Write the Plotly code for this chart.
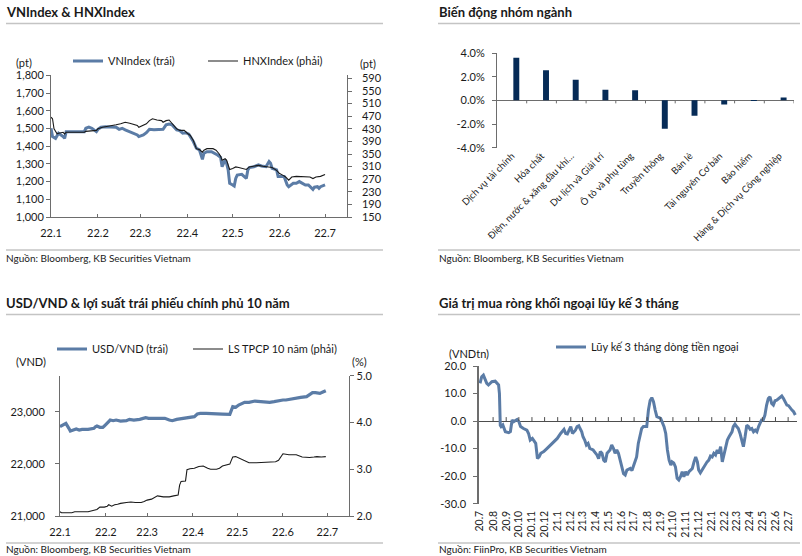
import plotly.graph_objects as go

FIG_W, FIG_H = 802, 556
FONT = "Lato"
TXT = "#1a1a1a"
AXC = "#6d6d6d"
BLUE = "#5b7ca6"
BLACK = "#1a1a1a"
NAVY = "#062b57"
RULE = "#c4c4c4"

# ---------------- Panel 1: VNIndex & HNXIndex ----------------
vn_dates = ["2022-01-01","2022-01-02","2022-01-04","2022-01-06","2022-01-09","2022-01-10","2022-01-11","2022-01-13",
            "2022-01-23","2022-01-24","2022-01-26","2022-01-28","2022-01-31","2022-02-01","2022-02-03","2022-02-06",
            "2022-02-10","2022-02-13","2022-02-15","2022-02-17","2022-02-19","2022-02-22","2022-02-24","2022-02-27",
            "2022-02-28","2022-03-03","2022-03-05","2022-03-07","2022-03-10","2022-03-14","2022-03-16","2022-03-18",
            "2022-03-20","2022-03-22","2022-03-25","2022-03-27","2022-03-29","2022-03-31","2022-04-02","2022-04-05",
            "2022-04-07","2022-04-09","2022-04-11","2022-04-12","2022-04-14","2022-04-17","2022-04-19","2022-04-21",
            "2022-04-23","2022-04-24","2022-04-26","2022-04-27","2022-04-28","2022-04-29","2022-05-01","2022-05-02",
            "2022-05-03","2022-05-04","2022-05-07","2022-05-09","2022-05-10","2022-05-11","2022-05-12","2022-05-15",
            "2022-05-18","2022-05-20","2022-05-23","2022-05-25","2022-05-26","2022-05-27","2022-05-30","2022-05-31",
            "2022-06-02","2022-06-04","2022-06-06","2022-06-07","2022-06-10","2022-06-12","2022-06-14","2022-06-16",
            "2022-06-18","2022-06-20","2022-06-22","2022-06-23","2022-06-24","2022-06-26","2022-06-27","2022-06-28",
            "2022-07-01"]
vn_values = [1501,1454,1444,1473,1454,1444,1482,1482,
             1482,1501,1507,1501,1482,1495,1507,1510,
             1510,1507,1495,1501,1492,1482,1476,1463,
             1454,1463,1476,1495,1492,1492,1495,1520,
             1525,1520,1492,1488,1473,1476,1468,1426,
             1388,1379,1326,1360,1369,1369,1360,1350,
             1337,1284,1322,1303,1266,1190,1181,1175,
             1218,1237,1241,1228,1218,1266,1279,1284,
             1294,1288,1284,1313,1303,1275,1266,1228,
             1228,1228,1181,1171,1190,1190,1200,1190,
             1181,1181,1162,1156,1168,1171,1162,1171,
             1181]

hnx_dates = ["2022-01-01","2022-01-02","2022-01-03","2022-01-05","2022-01-06","2022-01-09","2022-01-10","2022-01-11",
             "2022-01-23","2022-01-24","2022-01-31","2022-02-01","2022-02-04","2022-02-07","2022-02-10","2022-02-13",
             "2022-02-16","2022-02-19","2022-02-22","2022-02-24","2022-02-27","2022-02-28","2022-03-03","2022-03-05",
             "2022-03-07","2022-03-09","2022-03-12","2022-03-15","2022-03-16","2022-03-18","2022-03-20","2022-03-22",
             "2022-03-25","2022-03-27","2022-03-30","2022-04-01","2022-04-03","2022-04-05","2022-04-07","2022-04-09",
             "2022-04-11","2022-04-12","2022-04-14","2022-04-18","2022-04-20","2022-04-22","2022-04-23","2022-04-24",
             "2022-04-26","2022-04-27","2022-04-28","2022-04-29","2022-05-01","2022-05-03","2022-05-05","2022-05-08",
             "2022-05-10","2022-05-12","2022-05-15","2022-05-18","2022-05-21","2022-05-25","2022-05-27","2022-05-30",
             "2022-06-01","2022-06-03","2022-06-05","2022-06-07","2022-06-09","2022-06-12","2022-06-15","2022-06-17",
             "2022-06-21","2022-06-23","2022-06-25","2022-06-28","2022-07-01"]
hnx_values = [467,462,430,414,416,419,414,419,
              419,422,425,430,435,437,441,443,
              446,451,448,446,441,435,441,446,
              456,462,458,456,451,456,458,448,
              430,425,425,416,409,393,367,364,
              356,362,367,367,362,351,343,330,
              335,330,314,301,304,309,307,304,
              301,309,311,314,311,309,307,298,
              288,283,277,267,277,279,279,277,
              277,272,277,279,285]

p1_tick_dates = ["2022-01-01","2022-02-01","2022-03-01","2022-04-01","2022-05-01","2022-06-01","2022-07-01"]
p1_tick_text = ["22.1","22.2","22.3","22.4","22.5","22.6","22.7"]
p1_left_ticks = [1000,1100,1200,1300,1400,1500,1600,1700,1800]
p1_right_ticks = [150,190,230,270,310,350,390,430,470,510,550,590]

# ---------------- Panel 2: sector changes ----------------
sectors = ["Dịch vụ tài chính","Hóa chất","Điện, nước & xăng dầu khí…","Du lịch và Giải trí",
           "Ô tô và phụ tùng","Truyền thông","Bán lẻ","Tài nguyên Cơ bản","Bảo hiểm",
           "Hàng & Dịch vụ Công nghiệp"]
sector_changes = [3.6, 2.55, 1.75, 0.9, 0.85, -2.4, -1.3, -0.35, -0.05, 0.25]
p2_tick_vals = [-4, -2, 0, 2, 4]
p2_tick_text = ["-4.0%", "-2.0%", "0.0%", "2.0%", "4.0%"]

# ---------------- Panel 3: USD/VND & 10y yield ----------------
usd_dates = ["2022-01-01","2022-01-03","2022-01-05","2022-01-07","2022-01-08","2022-01-10","2022-01-12","2022-01-14",
             "2022-01-16","2022-01-20","2022-01-24","2022-01-25","2022-01-26","2022-01-28","2022-01-30","2022-01-31",
             "2022-02-02","2022-02-04","2022-02-06","2022-02-08","2022-02-11","2022-02-15","2022-02-17","2022-02-20",
             "2022-02-24","2022-02-26","2022-02-28","2022-03-02","2022-03-06","2022-03-09","2022-03-13","2022-03-16",
             "2022-03-18","2022-03-21","2022-03-24","2022-03-27","2022-03-31","2022-04-02","2022-04-04","2022-04-06",
             "2022-04-10","2022-04-17","2022-04-21","2022-04-26","2022-04-27","2022-04-28","2022-04-30","2022-05-02",
             "2022-05-06","2022-05-09","2022-05-13","2022-05-16","2022-05-19","2022-05-23","2022-05-26","2022-05-29",
             "2022-06-01","2022-06-03","2022-06-06","2022-06-10","2022-06-13","2022-06-17","2022-06-19","2022-06-21",
             "2022-06-23","2022-06-26","2022-06-28","2022-06-30"]
usd_values = [22712,22744,22776,22681,22629,22649,22668,22649,
              22661,22661,22681,22712,22725,22700,22700,22725,
              22776,22840,22827,22840,22821,22827,22853,22840,
              22853,22872,22885,22872,22872,22866,22872,22840,
              22827,22853,22866,22872,22885,22904,22955,22968,
              22968,22968,22955,22949,23045,23096,23083,23128,
              23179,23179,23204,23192,23185,23179,23192,23211,
              23224,23224,23243,23256,23275,23288,23319,23364,
              23364,23351,23377,23403]

yield_dates = ["2022-01-01","2022-01-02","2022-01-09","2022-01-11","2022-01-20","2022-01-24","2022-01-26","2022-01-28",
               "2022-01-31","2022-02-02","2022-02-03","2022-02-05","2022-02-07","2022-02-09","2022-02-11","2022-02-15",
               "2022-02-18","2022-02-21","2022-02-25","2022-02-27","2022-03-01","2022-03-04","2022-03-06","2022-03-08",
               "2022-03-12","2022-03-16","2022-03-19","2022-03-22","2022-03-23","2022-03-24","2022-03-27","2022-03-28",
               "2022-03-30","2022-04-02","2022-04-05","2022-04-08","2022-04-11","2022-04-13","2022-04-17","2022-04-19",
               "2022-04-21","2022-04-23","2022-04-26","2022-04-27","2022-04-28","2022-04-30","2022-05-02","2022-05-06",
               "2022-05-09","2022-05-14","2022-05-18","2022-05-23","2022-05-27","2022-05-29","2022-05-31","2022-06-01",
               "2022-06-05","2022-06-10","2022-06-14","2022-06-19","2022-06-22","2022-06-24","2022-06-27","2022-06-30"]
yield_values = [2.09,2.07,2.07,2.09,2.09,2.13,2.14,2.19,
                2.19,2.21,2.24,2.21,2.24,2.25,2.27,2.29,
                2.30,2.29,2.29,2.31,2.34,2.36,2.40,2.43,
                2.41,2.41,2.43,2.45,2.66,2.74,2.75,2.99,
                3.01,3.02,3.06,3.07,3.02,3.00,3.00,3.02,
                3.07,3.09,3.11,3.19,3.26,3.27,3.24,3.19,
                3.14,3.14,3.15,3.15,3.16,3.19,3.29,3.33,
                3.31,3.31,3.26,3.25,3.26,3.27,3.26,3.27]

p3_tick_dates = p1_tick_dates
p3_tick_text = p1_tick_text
p3_left_ticks = [21000, 22000, 23000]
p3_right_ticks = [2.0, 3.0, 4.0, 5.0]

# ---------------- Panel 4: 3-month cumulative foreign net buying ----------------
flow_dates = [
    "2020-07-01","2020-07-05","2020-07-09","2020-07-13","2020-07-17","2020-07-21","2020-07-25","2020-07-29",
    "2020-08-06","2020-08-10","2020-08-14","2020-08-16","2020-08-18","2020-08-20","2020-08-24","2020-08-30",
    "2020-09-07","2020-09-11","2020-09-15","2020-09-19","2020-09-23","2020-09-27","2020-10-01","2020-10-05",
    "2020-10-12","2020-10-20","2020-10-24","2020-10-28","2020-11-02","2020-11-06","2020-11-10","2020-11-14",
    "2020-11-18","2020-11-22","2020-11-29","2020-12-07","2020-12-15","2020-12-23","2020-12-31","2021-01-08",
    "2021-01-12","2021-01-16","2021-01-20","2021-01-24","2021-01-28","2021-02-01","2021-02-05","2021-02-09",
    "2021-02-12","2021-02-16","2021-02-20","2021-02-23","2021-02-27","2021-03-02","2021-03-06","2021-03-10",
    "2021-03-14","2021-03-18","2021-03-26","2021-04-04","2021-04-08","2021-04-12","2021-04-16","2021-04-20",
    "2021-04-24","2021-04-28","2021-05-01","2021-05-05","2021-05-09","2021-05-13","2021-05-17","2021-05-21",
    "2021-05-25","2021-05-29","2021-06-02","2021-06-06","2021-06-10","2021-06-14","2021-06-22","2021-06-26",
    "2021-06-29","2021-07-03","2021-07-07","2021-07-11","2021-07-15","2021-07-19","2021-07-23","2021-07-31",
    "2021-08-04","2021-08-08","2021-08-12","2021-08-16","2021-08-20","2021-08-24","2021-08-28","2021-09-02",
    "2021-09-10","2021-09-14","2021-09-18","2021-09-22","2021-09-26","2021-09-29","2021-10-03","2021-10-07",
    "2021-10-11","2021-10-15","2021-10-19","2021-10-23","2021-10-27","2021-10-31","2021-11-04","2021-11-08",
    "2021-11-12","2021-11-16","2021-11-20","2021-11-24","2021-11-28","2021-12-01","2021-12-05","2021-12-09",
    "2021-12-13","2021-12-17","2021-12-21","2021-12-25","2021-12-29","2022-01-02","2022-01-06","2022-01-10",
    "2022-01-14","2022-01-18","2022-01-22","2022-01-26","2022-01-30","2022-02-03","2022-02-07","2022-02-11",
    "2022-02-14","2022-02-18","2022-02-21","2022-02-25","2022-03-01","2022-03-05","2022-03-09","2022-03-13",
    "2022-03-17","2022-03-21","2022-03-25","2022-03-29","2022-04-02","2022-04-06","2022-04-10","2022-04-14",
    "2022-04-18","2022-04-22","2022-04-26","2022-04-29","2022-05-03","2022-05-07","2022-05-11","2022-05-15",
    "2022-05-19","2022-05-23","2022-05-27","2022-05-31","2022-06-04","2022-06-08","2022-06-12","2022-06-16",
    "2022-06-20","2022-06-24","2022-06-28","2022-07-02","2022-07-06","2022-07-10","2022-07-14","2022-07-18"]
flow_values = [
    13.7, 16.1, 16.7, 14.9, 13.7, 13.1, 13.7, 14.3,
    14.5, 13.9, 13.1, 10.0, -1.5, -2.0, -1.4, -3.9,
    -4.2, -3.8, 0.4, -0.2, 0.1, 0.6, -0.2, -2.0,
    -2.7, -3.3, -4.5, -6.9, -6.3, -7.5, -8.1, -13.6,
    -13.0, -11.7, -11.1, -9.9, -8.7, -7.5, -6.3, -4.5,
    -3.9, -3.0, -4.5, -4.7, -3.3, -2.0, -4.5, -3.9,
    -3.3, -2.0, -1.7, -2.7, -3.9, -5.7, -6.9, -8.7,
    -8.1, -9.9, -10.5, -12.3, -13.6, -11.1, -11.7, -14.2,
    -14.8, -11.7, -11.1, -10.5, -8.7, -9.9, -11.7, -10.5,
    -11.7, -14.2, -16.6, -19.1, -19.6, -17.8, -17.2, -18.0,
    -16.6, -14.8, -13.0, -8.1, -5.7, -2.7, -2.0, -2.0,
    4.0, 7.5, 8.5, 7.0, 4.0, 1.6, 1.3, 1.0,
    -2.0, -4.5, -10.5, -14.2, -16.0, -14.8, -15.2, -16.6,
    -20.8, -21.4, -20.2, -18.4, -20.2, -18.4, -19.6, -18.4,
    -17.8, -17.2, -14.8, -13.0, -14.8, -17.8, -18.8, -17.8,
    -16.6, -15.4, -14.8, -14.2, -12.7, -13.0, -11.7, -12.3,
    -10.5, -11.7, -9.3, -14.8, -11.7, -8.7, -6.9, -5.7,
    -5.1, -3.9, -2.0, -1.1, -2.0, -2.7, -4.5, -6.9,
    -9.3, -5.7, -1.5, -2.0, -3.0, -2.7, -3.9, -3.3,
    -3.9, -2.0, -0.8, 0.4, 0.4, 2.2, 5.8, 8.2,
    8.8, 6.4, 5.8, 7.4, 7.6, 8.2, 8.8, 9.1,
    8.2, 6.7, 5.8, 5.6, 4.6, 4.0, 3.4, 2.2]

p4_tick_dates = ["2020-07-01","2020-08-01","2020-09-01","2020-10-01","2020-11-01","2020-12-01",
                 "2021-01-01","2021-02-01","2021-03-01","2021-04-01","2021-05-01","2021-06-01",
                 "2021-07-01","2021-08-01","2021-09-01","2021-10-01","2021-11-01","2021-12-01",
                 "2022-01-01","2022-02-01","2022-03-01","2022-04-01","2022-05-01","2022-06-01",
                 "2022-07-01"]
p4_tick_text = ["20.7","20.8","20.9","20.10","20.11","20.12","21.1","21.2","21.3","21.4","21.5","21.6",
                "21.7","21.8","21.9","21.10","21.11","21.12","22.1","22.2","22.3","22.4","22.5","22.6","22.7"]
p4_tick_vals_y = [-30, -20, -10, 0, 10, 20]
p4_tick_text_y = ["-30.0", "-20.0", "-10.0", "0.0", "10.0", "20.0"]


# ---------------- helpers ----------------
def X(px):
    return px / FIG_W


def Y(py):
    return 1 - py / FIG_H


tickfont = dict(family=FONT, size=11, color=TXT)

fig = go.Figure()

fig.add_trace(go.Scatter(x=vn_dates, y=vn_values, mode="lines", name="VNIndex (trái)",
                         line=dict(color=BLUE, width=3), xaxis="x", yaxis="y", legend="legend"))
fig.add_trace(go.Scatter(x=hnx_dates, y=hnx_values, mode="lines", name="HNXIndex (phải)",
                         line=dict(color=BLACK, width=1.1), xaxis="x", yaxis="y2", legend="legend2"))
fig.add_trace(go.Bar(x=sectors, y=sector_changes, marker=dict(color=NAVY, line=dict(width=0)),
                     width=0.2, offset=0.05, xaxis="x2", yaxis="y3", showlegend=False))
fig.add_trace(go.Scatter(x=usd_dates, y=usd_values, mode="lines", name="USD/VND (trái)",
                         line=dict(color=BLUE, width=3.2), xaxis="x3", yaxis="y4", legend="legend3"))
fig.add_trace(go.Scatter(x=yield_dates, y=yield_values, mode="lines", name="LS TPCP 10 năm (phải)",
                         line=dict(color=BLACK, width=1.1), xaxis="x3", yaxis="y5", legend="legend4"))
fig.add_trace(go.Scatter(x=flow_dates, y=flow_values, mode="lines", name="Lũy kế 3 tháng dòng tiền ngoại",
                         line=dict(color=BLUE, width=3), xaxis="x4", yaxis="y6", legend="legend5"))

axis_common = dict(showgrid=False, zeroline=False, linecolor=AXC, linewidth=1, tickcolor=AXC,
                   tickfont=tickfont, fixedrange=True, automargin=False)

fig.update_layout(
    xaxis=dict(axis_common, domain=[X(51), X(346.7)], anchor="y", type="date",
               range=["2022-01-01", "2022-07-15 07:00"], tickvals=p1_tick_dates, ticktext=p1_tick_text,
               showline=True, ticks="inside", ticklen=3, ticklabelstandoff=6),
    yaxis=dict(axis_common, domain=[Y(217), Y(75.3)], anchor="x", range=[1000, 1800],
               tickvals=p1_left_ticks, tickformat=",", showline=True, ticks="outside", ticklen=4),
    yaxis2=dict(axis_common, overlaying="y", side="right", anchor="x", range=[150, 600],
                tickvals=p1_right_ticks, showline=True, ticks="outside", ticklen=4, ticklabelstandoff=8),
    xaxis2=dict(axis_common, domain=[X(497), X(794)], anchor="y3", type="category", range=[-0.5, 9.5],
                showline=False, ticks="", tickangle=-45, tickfont=dict(family=FONT, size=9.5, color=TXT)),
    yaxis3=dict(axis_common, domain=[Y(147.7), Y(53)], anchor="x2", range=[-4, 4],
                tickvals=p2_tick_vals, ticktext=p2_tick_text, showline=True, ticks="outside", ticklen=4,
                ticklabelstandoff=5, zeroline=True, zerolinecolor=AXC, zerolinewidth=1),
    xaxis3=dict(axis_common, domain=[X(60), X(349.3)], anchor="y4", type="date",
                range=["2022-01-01", "2022-07-15 22:00"], tickvals=p3_tick_dates, ticktext=p3_tick_text,
                showline=True, ticks="inside", ticklen=3, ticklabelstandoff=6),
    yaxis4=dict(axis_common, domain=[Y(516), Y(375.7)], anchor="x3", range=[21000, 23690],
                tickvals=p3_left_ticks, tickformat=",", showline=True, ticks="outside", ticklen=4,
                ticklabelstandoff=8),
    yaxis5=dict(axis_common, overlaying="y4", side="right", anchor="x3", range=[2, 5],
                tickvals=p3_right_ticks, tickformat=".1f", showline=True, ticks="outside", ticklen=4),
    xaxis4=dict(axis_common, domain=[X(479), X(797)], anchor="y6", type="date",
                range=["2020-06-28 14:00", "2022-07-22"], tickvals=p4_tick_dates, ticktext=p4_tick_text,
                showline=False, ticks="", tickangle=-90, ticklabelstandoff=4,
                tickfont=dict(family=FONT, size=10.5, color=TXT)),
    yaxis6=dict(axis_common, domain=[Y(503.7), Y(366)], anchor="x4", range=[-30, 20],
                tickvals=p4_tick_vals_y, ticktext=p4_tick_text_y, showline=True, linewidth=1.5,
                ticks="outside", ticklen=4, ticklabelstandoff=5,
                zeroline=True, zerolinecolor="#4d4d4d", zerolinewidth=1),
)

# legends (one per series, placed like the reference)
def legend_at(px_x, px_y):
    return dict(x=X(px_x), y=Y(px_y), xanchor="left", yanchor="middle", orientation="h",
                bgcolor="rgba(0,0,0,0)", borderwidth=0, itemwidth=30,
                font=dict(family=FONT, size=11, color=TXT))

fig.update_layout(
    legend=legend_at(68, 61),
    legend2=legend_at(203, 61),
    legend3=legend_at(52, 349),
    legend4=legend_at(188, 349),
    legend5=legend_at(551, 347),
)

# tick marks on the zero lines (panel 2 category boundaries, panel 4 months)
shapes = []
for k in range(len(sectors)):
    shapes.append(dict(type="line", xref="x2", yref="y3", x0=k + 0.5, x1=k + 0.5,
                       ysizemode="pixel", yanchor=0, y0=0, y1=-3, line=dict(color=AXC, width=1)))
for d in p4_tick_dates[1:]:
    shapes.append(dict(type="line", xref="x4", yref="y6", x0=d, x1=d,
                       ysizemode="pixel", yanchor=0, y0=0, y1=4, line=dict(color="#4d4d4d", width=1)))

# title / source rules
for (x0, x1, yy) in [(6, 383, 23.5), (438, 800, 23.5), (6, 383, 250), (438, 800, 250),
                     (6, 383, 314.5), (438, 800, 314.5), (6, 383, 543), (438, 800, 543)]:
    shapes.append(dict(type="line", xref="paper", yref="paper", x0=X(x0), x1=X(x1), y0=Y(yy), y1=Y(yy),
                       line=dict(color=RULE, width=1.5)))
fig.update_layout(shapes=shapes)

annotations = []
def txt(text, px_x, px_y, size=11, bold=False, anchor="left"):
    annotations.append(dict(text=text, x=X(px_x), y=Y(px_y), xref="paper", yref="paper",
                            xanchor=anchor, yanchor="middle", showarrow=False,
                            font=dict(family=FONT, size=size, color=TXT, weight=700 if bold else 400)))

txt("VNIndex & HNXIndex", 4, 12, size=13, bold=True)
txt("Biến động nhóm ngành", 437, 12, size=13, bold=True)
txt("USD/VND & lợi suất trái phiếu chính phủ 10 năm", 4, 303, size=13, bold=True)
txt("Giá trị mua ròng khối ngoại lũy kế 3 tháng", 437, 303, size=13, bold=True)

txt("(pt)", 23.5, 63, anchor="center")
txt("(pt)", 368, 64, anchor="center")
txt("(VND)", 31, 361, anchor="center")
txt("(%)", 359, 361, anchor="center")
txt("(VNDtn)", 469, 353, anchor="center")

txt("Nguồn: Bloomberg, KB Securities Vietnam", 4, 258, size=10)
txt("Nguồn: Bloomberg, KB Securities Vietnam", 437, 258, size=10)
txt("Nguồn: Bloomberg, KB Securities Vietnam", 4, 548.5, size=10)
txt("Nguồn: FiinPro, KB Securities Vietnam", 437, 548.5, size=10)
fig.update_layout(annotations=annotations)

fig.update_layout(
    width=FIG_W, height=FIG_H, autosize=False,
    margin=dict(l=0, r=0, t=0, b=0, pad=0, autoexpand=False),
    paper_bgcolor="white", plot_bgcolor="white",
    font=dict(family=FONT, color=TXT),
    bargap=0.5,
)

fig.write_html("out.html", config={"displayModeBar": False},
               post_script="document.body.style.margin='0px';document.body.style.overflow='hidden';")
